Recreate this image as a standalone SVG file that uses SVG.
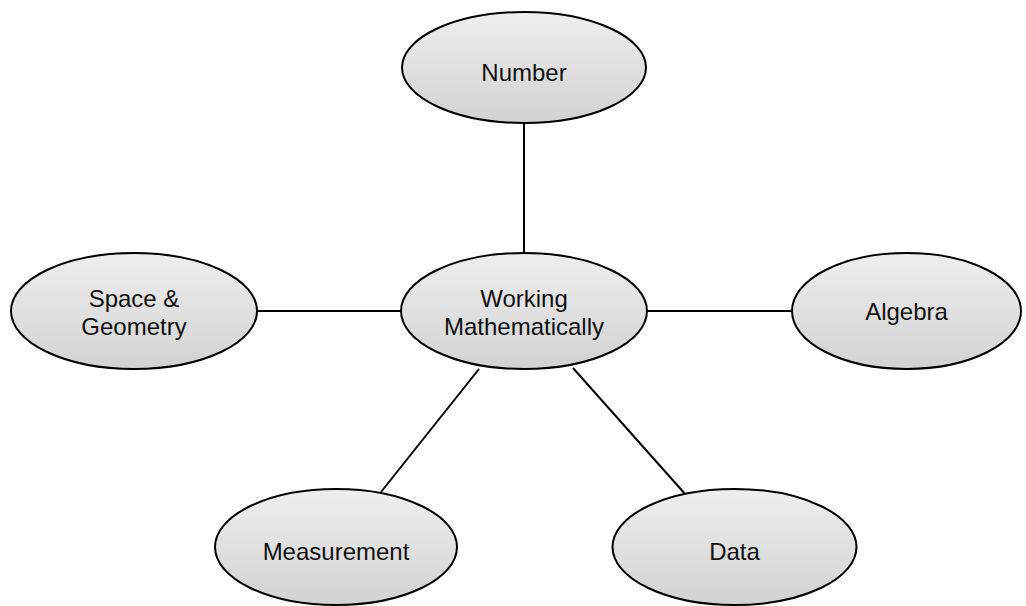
<svg xmlns="http://www.w3.org/2000/svg" width="1026" height="606" viewBox="0 0 1026 606">
<defs>
<linearGradient id="g" x1="0" y1="0" x2="0" y2="1">
<stop offset="0" stop-color="#eeeeee"/>
<stop offset="1" stop-color="#d2d2d2"/>
</linearGradient>
<style>
.n{fill:url(#g);stroke:#000;stroke-width:2}
.c{stroke:#000;stroke-width:2;fill:none}
text{font-family:"Liberation Sans",Arial,sans-serif;font-size:24px;fill:#111;text-anchor:middle}
</style>
</defs>
<rect width="1026" height="606" fill="#fff"/>
<g id="connectors">
<line class="c" x1="524" y1="123" x2="524" y2="253"/>
<line class="c" x1="257" y1="311" x2="401" y2="311"/>
<line class="c" x1="647" y1="311" x2="792" y2="311"/>
<line class="c" x1="479" y1="369" x2="381" y2="492"/>
<line class="c" x1="573" y1="368" x2="686" y2="495"/>
</g>
<g id="number"><ellipse class="n" cx="524" cy="67.5" rx="122" ry="55.5"/><text x="524" y="81">Number</text></g>
<g id="working"><ellipse class="n" cx="524" cy="311" rx="123" ry="58"/><text x="524" y="306.5">Working</text><text x="524" y="334.5">Mathematically</text></g>
<g id="space"><ellipse class="n" cx="134" cy="311" rx="123" ry="58"/><text x="134" y="306.5">Space &amp;</text><text x="134" y="334.5">Geometry</text></g>
<g id="algebra"><ellipse class="n" cx="906.5" cy="311" rx="114.5" ry="58"/><text x="906.5" y="320">Algebra</text></g>
<g id="measurement"><ellipse class="n" cx="336" cy="547" rx="121" ry="58"/><text x="336" y="560">Measurement</text></g>
<g id="data"><ellipse class="n" cx="734.5" cy="547" rx="122" ry="58"/><text x="734.5" y="560">Data</text></g>
</svg>
